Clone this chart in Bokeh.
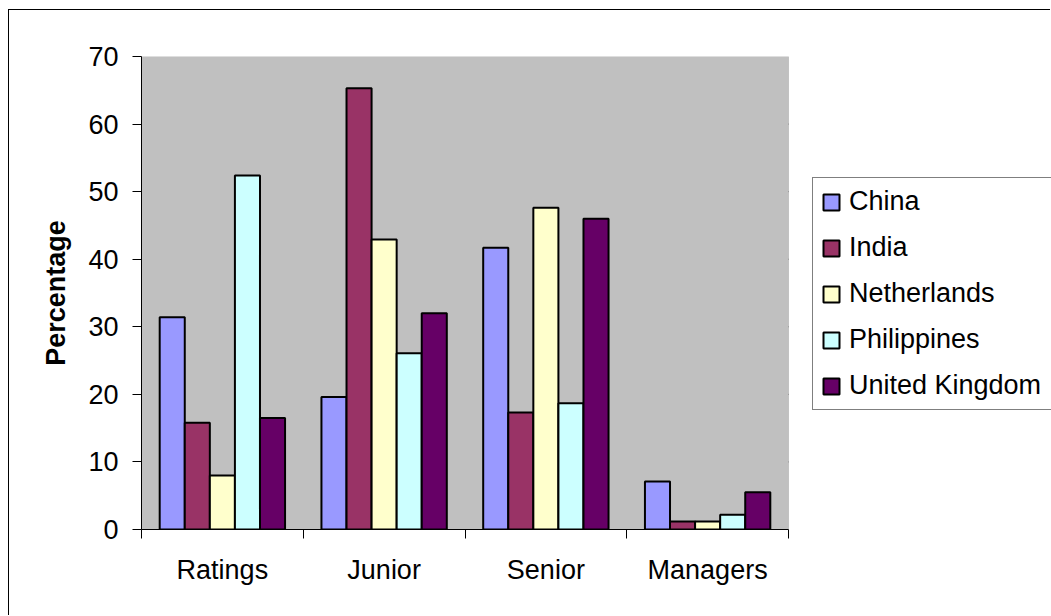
from bokeh.plotting import figure
from bokeh.models import (ColumnDataSource, Range1d, FixedTicker, Legend, LegendItem,
                          BoxAnnotation)
from bokeh.transform import dodge
from bokeh.embed import file_html
from bokeh.resources import INLINE

categories = ["Ratings", "Junior", "Senior", "Managers"]
china = [31.4, 19.6, 41.7, 7.1]
india = [15.8, 65.3, 17.3, 1.2]
netherlands = [8.0, 42.9, 47.6, 1.2]
philippines = [52.4, 26.1, 18.7, 2.2]
united_kingdom = [16.5, 32.0, 46.0, 5.5]
y_ticks = [0, 10, 20, 30, 40, 50, 60, 70]

series_names = ["China", "India", "Netherlands", "Philippines", "United Kingdom"]
series_values = [china, india, netherlands, philippines, united_kingdom]
colors = ["#9999FF", "#993366", "#FFFFCC", "#CCFFFF", "#660066"]

FONT = "Liberation Sans"

# layout (pixels)
W, H = 1042, 606
LEFT, TOP, BOTTOM = 132, 46, 87
PLOT_W = 647          # width of the grey plot area
FRAME_W = W - LEFT    # frame runs to the right edge so the legend can sit outside the grey area
n = len(categories)
x_end = n * FRAME_W / PLOT_W

data = {"x": [i + 0.5 for i in range(n)]}
for name, vals in zip(series_names, series_values):
    data[name] = vals
source = ColumnDataSource(data)

p = figure(width=W, height=H, output_backend="svg", toolbar_location=None,
           x_range=Range1d(0, x_end), y_range=Range1d(y_ticks[0], y_ticks[-1]),
           min_border_left=LEFT, min_border_top=TOP, min_border_right=0,
           min_border_bottom=BOTTOM)
p.styles = {"margin": "9px 0px 0px 8px",
            "border-top": "1px solid #000000", "border-left": "1px solid #000000"}
p.background_fill_color = "white"
p.border_fill_color = "white"
p.outline_line_color = None
p.grid.visible = False

# grey plot area
p.add_layout(BoxAnnotation(left=0, right=n, bottom=y_ticks[0], top=y_ticks[-1],
                           fill_color="#C0C0C0", fill_alpha=1,
                           line_color="#808080", line_width=1, level="underlay"))
# gridlines limited to the plot area
grid_vals = y_ticks[1:-1]
p.segment(x0=[0] * len(grid_vals), x1=[n] * len(grid_vals), y0=grid_vals, y1=grid_vals,
          line_color="#000000", line_width=1, level="underlay")

bw = 0.155
renderers = []
for k, (name, col) in enumerate(zip(series_names, colors)):
    r = p.vbar(x=dodge("x", (k - 2) * bw, range=p.x_range), top=name, width=bw,
               source=source, fill_color=col, line_color="black", line_width=2)
    renderers.append(r)

p.yaxis.ticker = FixedTicker(ticks=y_ticks)
p.yaxis.major_tick_out = 9
p.yaxis.major_tick_in = 0
p.yaxis.minor_tick_out = 0
p.yaxis.minor_tick_in = 0
p.yaxis.major_label_standoff = 14
p.yaxis.major_label_text_font = FONT
p.yaxis.major_label_text_font_size = "27px"
p.yaxis.major_label_text_color = "black"
p.yaxis.axis_line_color = "black"
p.yaxis.major_tick_line_color = "black"
p.yaxis.axis_label = "Percentage"
p.yaxis.axis_label_text_font = FONT
p.yaxis.axis_label_text_font_size = "27px"
p.yaxis.axis_label_text_font_style = "bold"
p.yaxis.axis_label_text_color = "black"
p.yaxis.axis_label_standoff = 14

centers = [i + 0.5 for i in range(n)]
bounds = list(range(n + 1))
p.xaxis.bounds = (0, n)
p.xaxis.ticker = FixedTicker(ticks=centers, minor_ticks=bounds)
p.xaxis.major_label_overrides = {c: lab for c, lab in zip(centers, categories)}
p.xaxis.major_tick_out = 0
p.xaxis.major_tick_in = 0
p.xaxis.minor_tick_out = 9
p.xaxis.minor_tick_in = 0
p.xaxis.minor_tick_line_color = "black"
p.xaxis.major_label_standoff = 16
p.xaxis.major_label_text_font = FONT
p.xaxis.major_label_text_font_size = "27px"
p.xaxis.major_label_text_color = "black"
p.xaxis.axis_line_color = "black"

items = [LegendItem(label=nm, renderers=[r]) for nm, r in zip(series_names, renderers)]
legend = Legend(items=items, location=(PLOT_W + 24, 119))
legend.border_line_color = "black"
legend.border_line_width = 1
legend.background_fill_color = "white"
legend.background_fill_alpha = 1
legend.label_text_font = FONT
legend.label_text_font_size = "27px"
legend.label_text_color = "black"
legend.glyph_width = 20
legend.glyph_height = 20
legend.label_standoff = 8
legend.padding = 8
legend.spacing = 15
legend.label_height = 28
legend.label_width = 200
legend.margin = 0
p.add_layout(legend)

open("out.html", "w").write(file_html(p, INLINE))
